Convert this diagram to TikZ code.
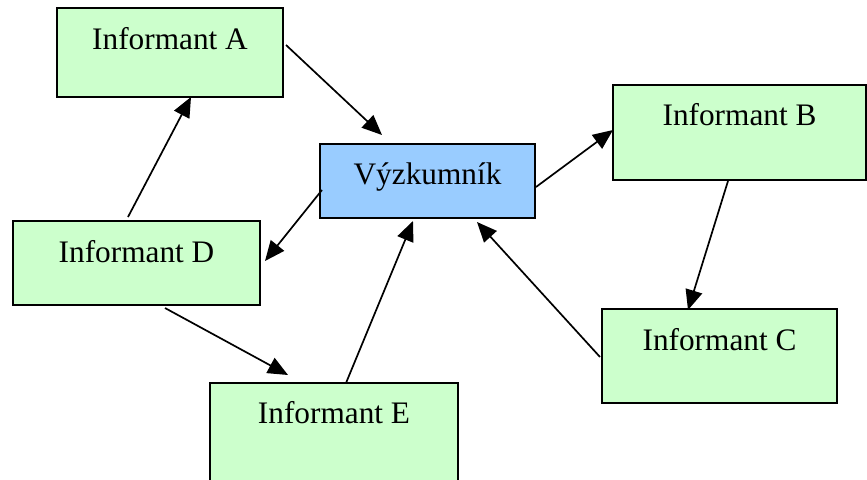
\documentclass[tikz,border=0pt]{standalone}
\usepackage{fontspec}
\setmainfont{Liberation Serif}
\usetikzlibrary{arrows.meta}
\definecolor{boxgreen}{HTML}{CCFFCC}
\definecolor{boxblue}{HTML}{99CCFF}
\tikzset{
  box/.style={draw=black, line width=2pt, rectangle, inner sep=0pt, outer sep=0pt},
  lbl/.style={anchor=base, inner sep=0pt, font=\fontsize{31.3}{37}\selectfont},
  arr/.style={line width=1.7pt, -{Triangle[length=20pt,width=17pt]}}
}
\begin{document}
\begin{tikzpicture}[x=1pt,y=-1pt]
\useasboundingbox (0,0) rectangle (867,479);
\clip (0,0) rectangle (867,479);
% boxes
\node[box, fill=boxgreen, minimum width=226pt, minimum height=89pt] (A) at (170,52.5) {};
\node[box, fill=boxblue, minimum width=215pt, minimum height=74pt] (V) at (427.5,181) {};
\node[box, fill=boxgreen, minimum width=253pt, minimum height=95pt] (B) at (739.5,132.5) {};
\node[box, fill=boxgreen, minimum width=235pt, minimum height=94pt] (C) at (719.5,356) {};
\node[box, fill=boxgreen, minimum width=247pt, minimum height=84pt] (D) at (136.5,263) {};
\node[box, fill=boxgreen, minimum width=248pt, minimum height=120pt] (E) at (334,443) {};
% labels
\node[lbl] (tA) at ([yshift=-41pt]A.north) {Informant A};
\node[lbl] (tV) at ([yshift=-40pt]V.north) {Výzkumník};
\node[lbl] (tB) at ([yshift=-40pt]B.north) {Informant B};
\node[lbl] (tC) at ([yshift=-41pt]C.north) {Informant C};
\node[lbl] (tD) at ([yshift=-41pt]D.north) {Informant D};
\node[lbl] (tE) at ([yshift=-40pt]E.north) {Informant E};
% connector end points
\coordinate (a1) at (286,45);  \coordinate (a2) at (382,135);
\coordinate (d1) at (128,217); \coordinate (d2) at (191,97);
\coordinate (v1) at (322,190); \coordinate (v2) at (265,261);
\coordinate (v3) at (536,187); \coordinate (v4) at (613,130);
\coordinate (b1) at (728,181); \coordinate (b2) at (688,310);
\coordinate (c1) at (600,357); \coordinate (c2) at (477,222);
\coordinate (d3) at (165,308); \coordinate (d4) at (288,375);
\coordinate (e1) at (346,383); \coordinate (e2) at (413,221);
% connectors
\draw[arr] (a1) -- (a2);
\draw[arr] (d1) -- (d2);
\draw[arr] (v1) -- (v2);
\draw[arr] (v3) -- (v4);
\draw[arr] (b1) -- (b2);
\draw[arr] (c1) -- (c2);
\draw[arr] (d3) -- (d4);
\draw[arr] (e1) -- (e2);
\end{tikzpicture}
\end{document}
